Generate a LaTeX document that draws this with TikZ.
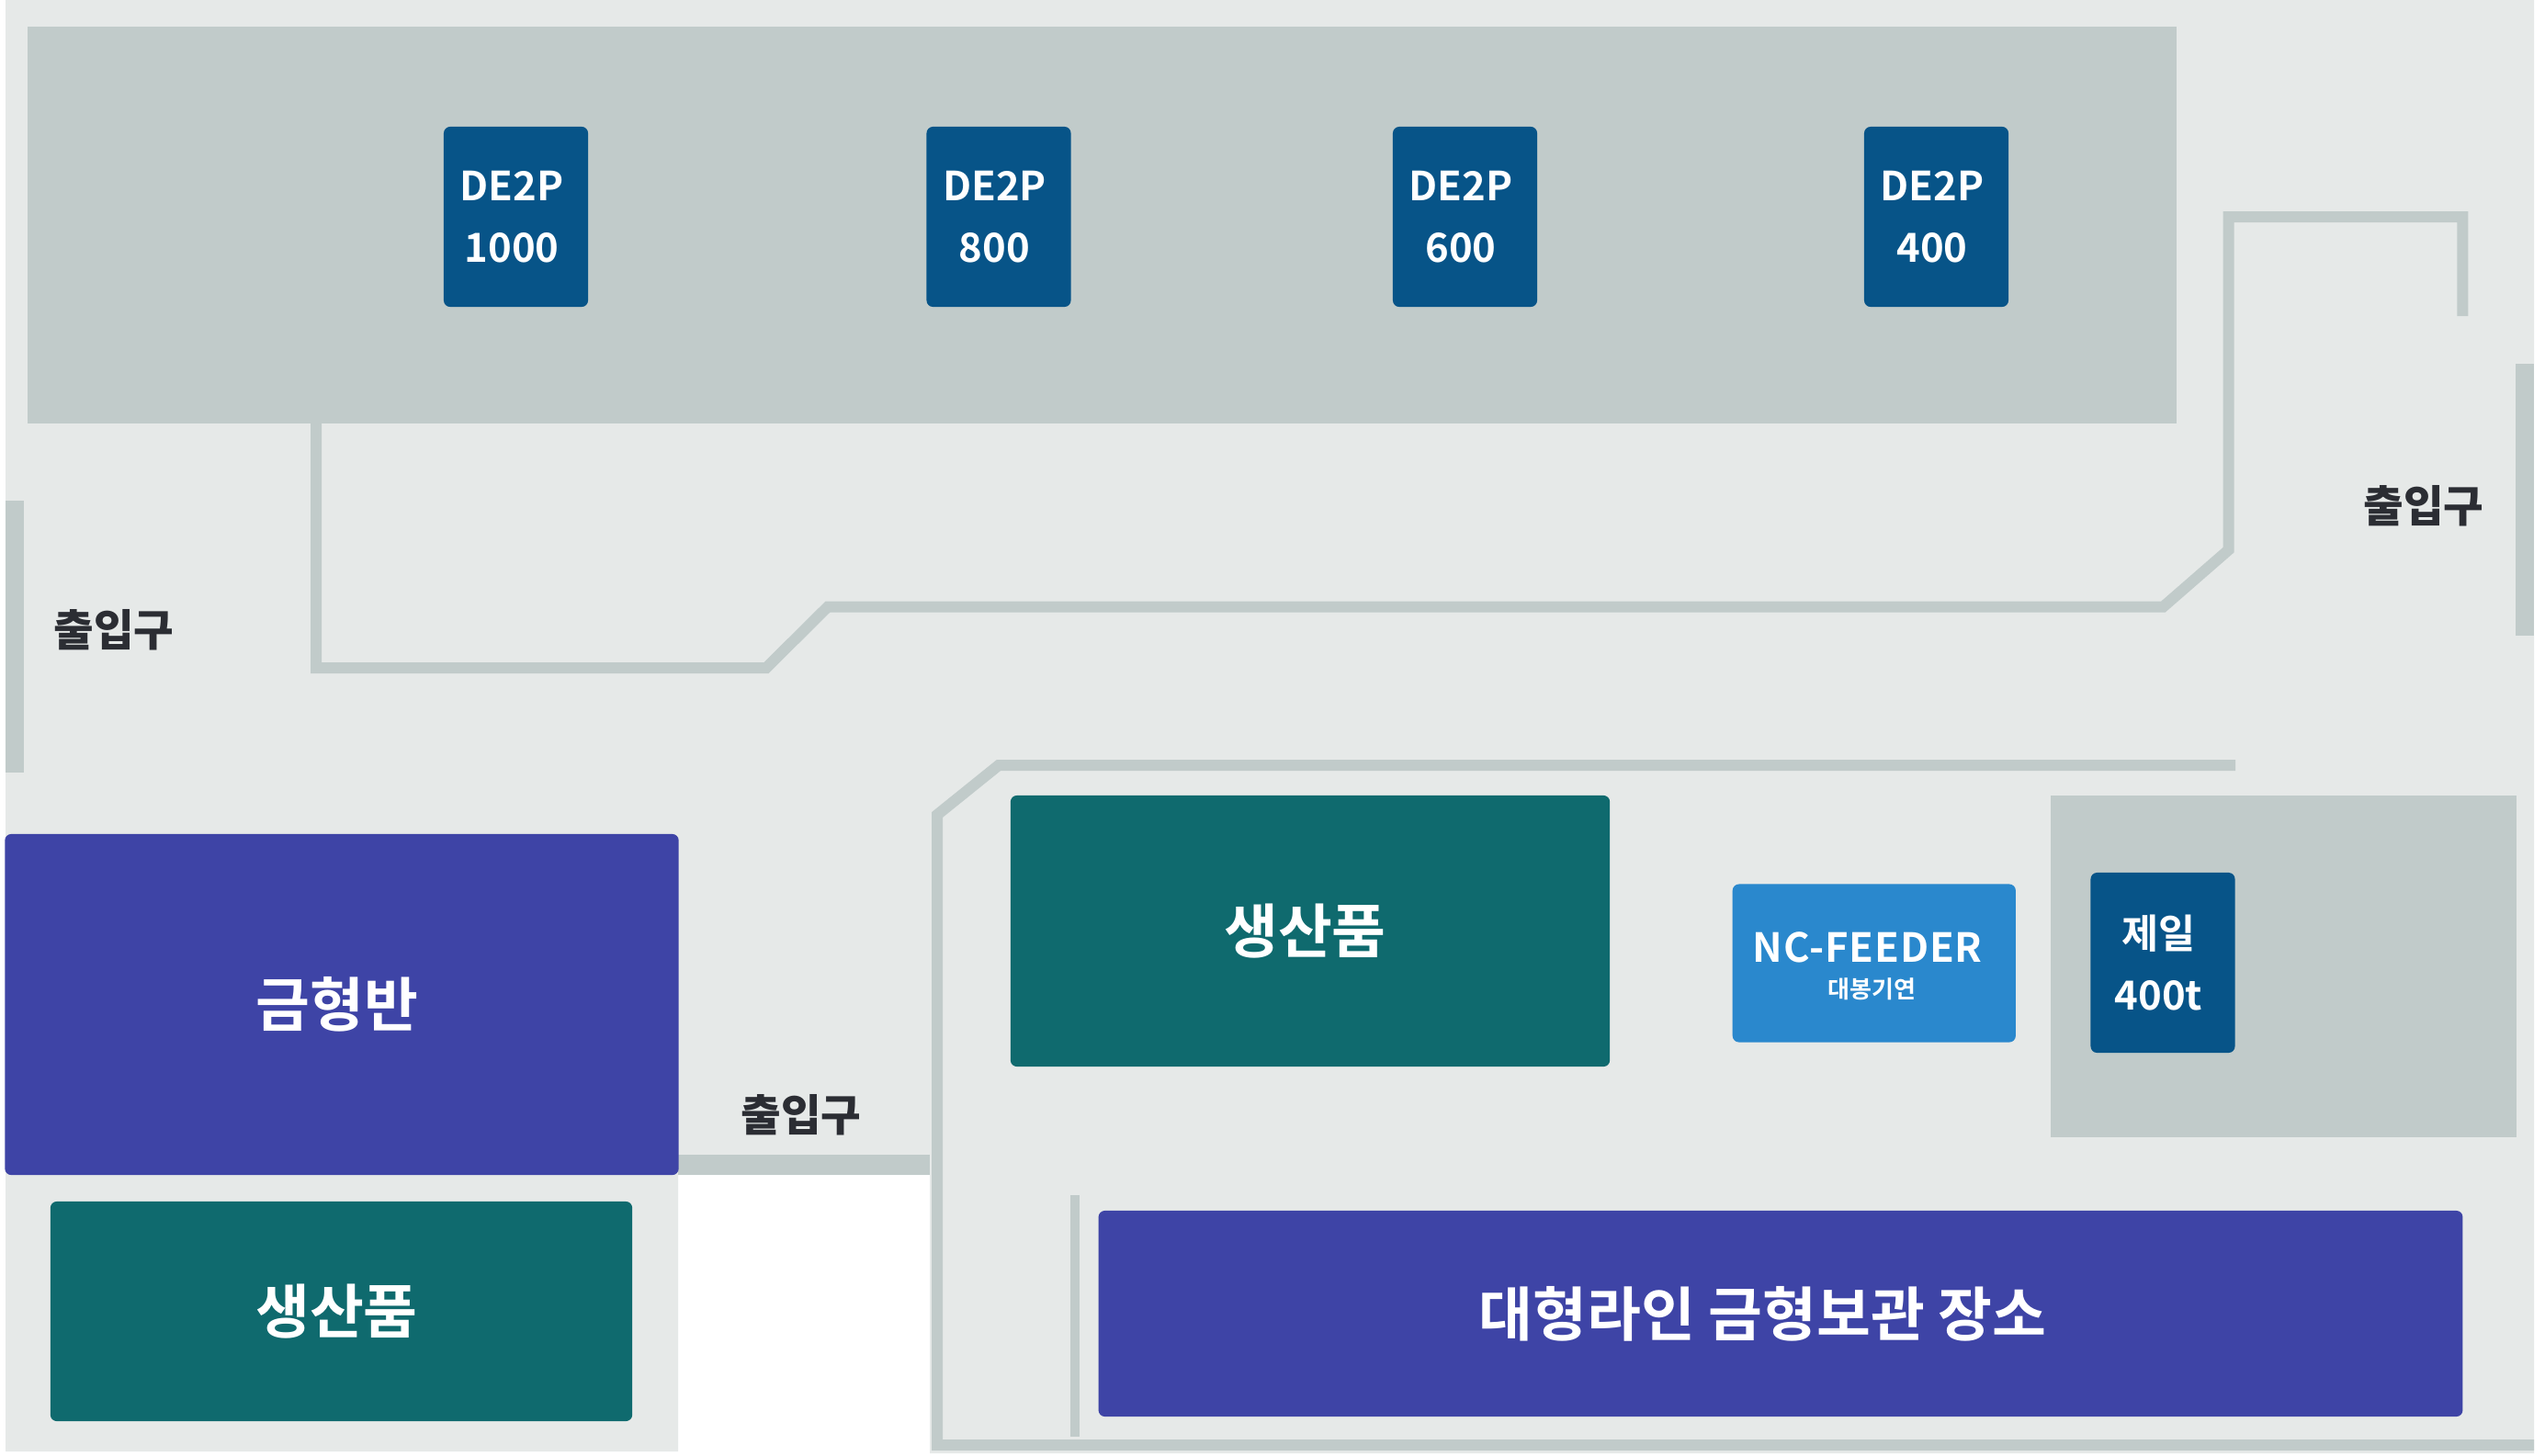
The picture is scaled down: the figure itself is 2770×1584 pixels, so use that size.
\documentclass[tikz,border=0pt]{standalone}
\usepackage{fontspec}
\setmainfont{Noto Sans CJK KR Bold}
\newfontfamily\doorfont{Noto Sans CJK KR Black}
\usepackage{xcolor}
\definecolor{floorc}{RGB}{230,233,232}
\definecolor{zonec}{RGB}{193,203,202}
\definecolor{wallc}{RGB}{193,203,202}
\definecolor{pressc}{RGB}{7,84,136}
\definecolor{moldc}{RGB}{62,68,166}
\definecolor{prodc}{RGB}{15,106,110}
\definecolor{feedc}{RGB}{42,136,205}
\definecolor{inkc}{RGB}{43,45,51}

\begin{document}
\begin{tikzpicture}[
  x=0.01cm, y=-0.01cm,
  every node/.style={inner sep=0pt, outer sep=0pt},
  zone/.style={rectangle, fill=zonec},
  box/.style={rectangle, rounded corners=0.07cm, text=white, align=center},
  pressbox/.style={box, fill=pressc, minimum width=1.57cm, minimum height=1.96cm},
  moldbox/.style={box, fill=moldc},
  prodbox/.style={box, fill=prodc},
  boxtext/.style={text=white, align=center, font=\fontsize{12.4pt}{19pt}\selectfont},
  bigtext/.style={text=white, font=\fontsize{18.2pt}{20pt}\selectfont},
  doortext/.style={text=inkc, font=\fontsize{13.5pt}{16pt}\doorfont},
  wall/.style={draw=wallc, line width=0.12cm, miter limit=10},
]
\useasboundingbox (0,0) rectangle (2770,1584);
\fill[white] (0,0) rectangle (2770,1584);

%% Floor
\fill[floorc] (6,0) -- (2758,0) -- (2758,1582) -- (1012,1582) -- (1012,1279)
  -- (738,1279) -- (738,1580) -- (6,1580) -- cycle;

%% Zones
\node[zone, minimum width=23.38cm, minimum height=4.32cm] (topzone) at (1199.5,245) {};
\node[zone, minimum width=5.07cm, minimum height=3.71cm] (jeilzone) at (2485.8,1052) {};

%% Doors
\node[zone, minimum width=0.2cm, minimum height=2.96cm] (doorleft) at (16,693) {};
\node[zone, minimum width=0.2cm, minimum height=2.96cm] (doorright) at (2748,544) {};
\node[zone, minimum width=2.74cm, minimum height=0.215cm] (doormid) at (875,1268) {};
\node[doortext] (doorlefttext) at (124,686) {출입구};
\node[doortext] (doorrighttext) at (2638,551) {출입구};
\node[doortext] (doormidtext) at (872,1214) {출입구};

%% Walls
\draw[wall] (344,461) -- (344,727) -- (834,727) -- (901,660.5) -- (2354.5,660.5)
  -- (2425.7,598.5) -- (2425.7,236) -- (2680.3,236) -- (2680.3,344);
\draw[wall] (2433,833) -- (1087,833) -- (1020,887) -- (1020,1573) -- (2758,1573);
\draw[wall, line width=0.1cm] (1170,1301) -- (1170,1564);

%% Presses
\node[pressbox, label={[boxtext, xshift=-0.045cm, yshift=-0.005cm]center:DE2P\\1000}] (de1000) at (561.5,236) {};
\node[pressbox, label={[boxtext, xshift=-0.045cm, yshift=-0.005cm]center:DE2P\\800}] (de800) at (1087,236) {};
\node[pressbox, label={[boxtext, xshift=-0.045cm, yshift=-0.005cm]center:DE2P\\600}] (de600) at (1594.5,236) {};
\node[pressbox, label={[boxtext, xshift=-0.045cm, yshift=-0.005cm]center:DE2P\\400}] (de400) at (2107.5,236) {};
\node[pressbox, label={[boxtext, xshift=-0.045cm]center:제일\\400t}] (jeil) at (2354,1048) {};

%% Molds and products
\node[moldbox, minimum width=7.33cm, minimum height=3.71cm] (moldroom) at (372,1093.5) {\fontsize{18.2pt}{20pt}\selectfont\hspace*{-0.1cm}금형반};
\node[prodbox, minimum width=6.33cm, minimum height=2.39cm] (prodlow) at (371.5,1427.5) {\fontsize{18.2pt}{20pt}\selectfont\hspace*{-0.1cm}생산품};
\node[prodbox, minimum width=6.52cm, minimum height=2.95cm] (prodtop) at (1426,1013.5) {\fontsize{18.2pt}{20pt}\selectfont\hspace*{-0.11cm}생산품};
\node[moldbox, minimum width=14.84cm, minimum height=2.24cm] (moldstore) at (1938,1430) {};
\node[bigtext] (moldstoretext) at (1918.5,1430) {대형라인 금형보관 장소};

%% Feeder
\node[box, fill=feedc, minimum width=3.08cm, minimum height=1.72cm] (feeder) at (2039.8,1048.5) {};
\node[boxtext] (feedertext) at (2032.7,1031) {\addfontfeatures{LetterSpace=2}NC-FEEDER};
\node[text=white, font=\fontsize{7.4pt}{9pt}\selectfont] (feedersub) at (2037.2,1077) {대봉기연};

\end{tikzpicture}
\end{document}
